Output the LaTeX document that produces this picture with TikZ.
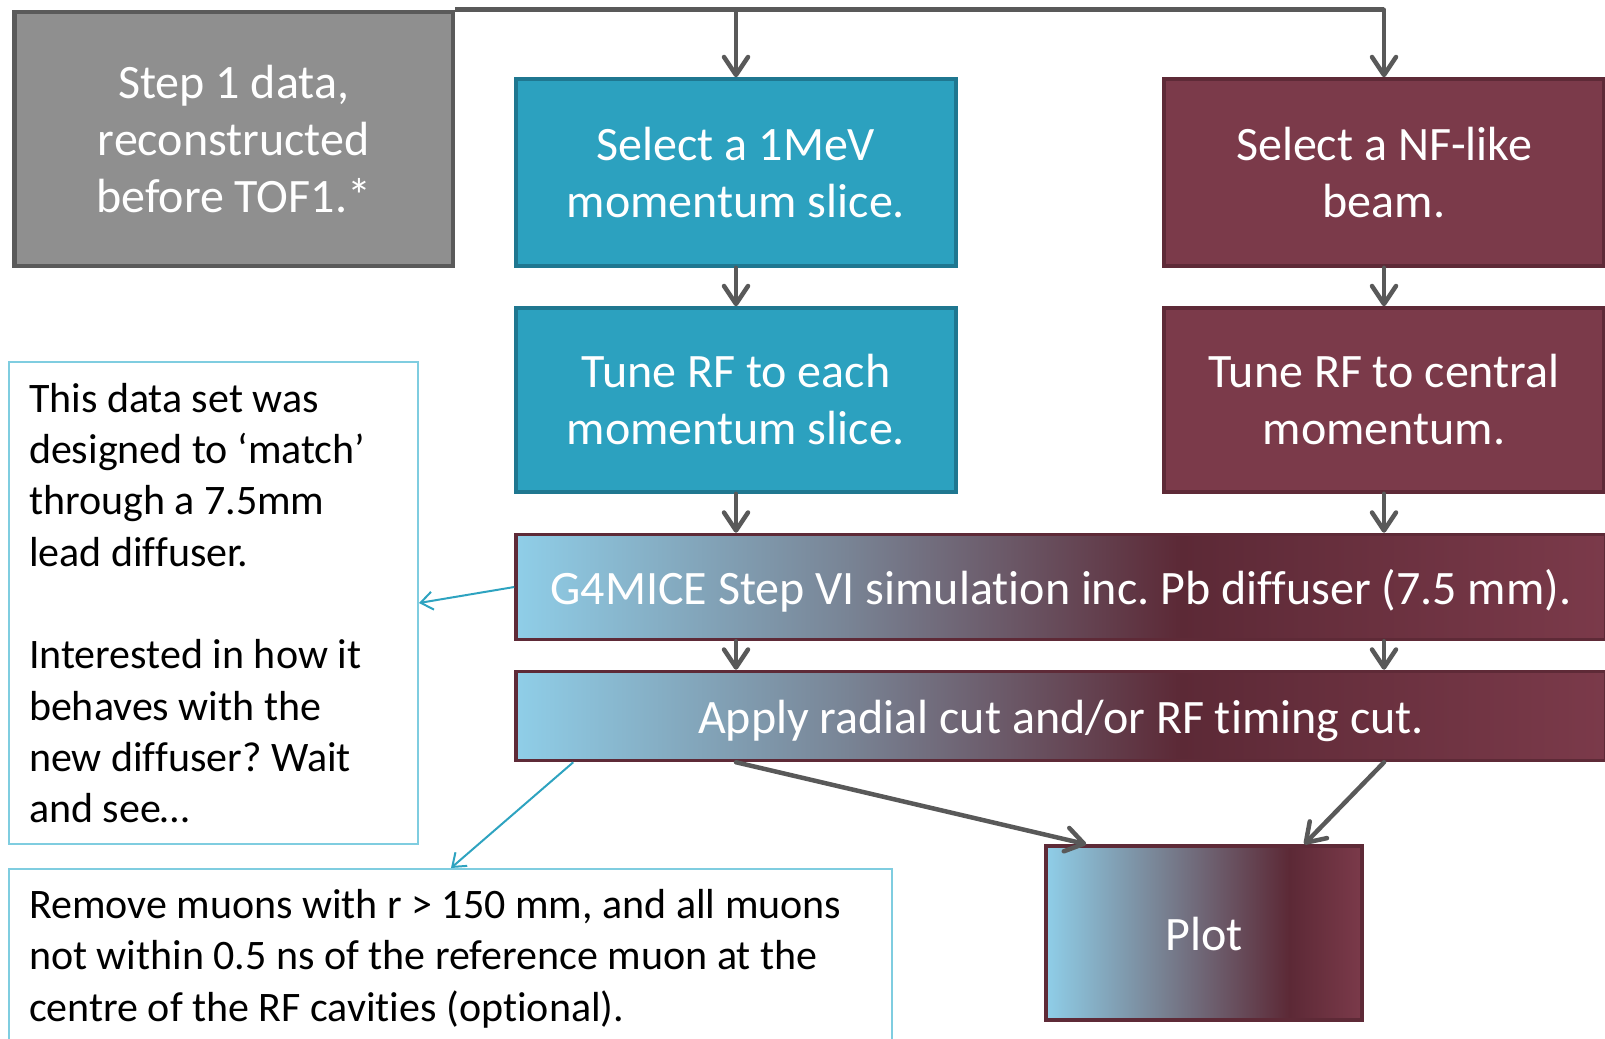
\documentclass[tikz,border=0pt]{standalone}
\usepackage{fontspec}
\setmainfont{Carlito}[Ligatures=NoCommon]
\usetikzlibrary{arrows.meta,calc}
\frenchspacing
\definecolor{arrowgray}{HTML}{595959}
\definecolor{grayfill}{HTML}{8F8F8F}
\definecolor{grayline}{HTML}{5A5A5A}
\definecolor{tealfill}{HTML}{2CA1BF}
\definecolor{tealline}{HTML}{1F7790}
\definecolor{maroonfill}{HTML}{7B3A4A}
\definecolor{maroonline}{HTML}{5E2A37}
\definecolor{noteline}{HTML}{7FCDE0}
\definecolor{thinteal}{HTML}{2EA3C0}
\definecolor{gblue}{HTML}{8FCEE8}
\definecolor{gmid}{HTML}{798596}
\definecolor{gdark}{HTML}{5C2936}
\definecolor{glight}{HTML}{7B3A4A}
\pgfdeclarehorizontalshading{gfour}{100bp}{color(0bp)=(gblue); color(25bp)=(gblue); color(40bp)=(gmid); color(55.5bp)=(gdark); color(75bp)=(glight); color(100bp)=(glight)}
\pgfdeclarehorizontalshading{plotsh}{100bp}{color(0bp)=(gblue); color(25bp)=(gblue); color(42.5bp)=(gmid); color(63.5bp)=(gdark); color(75bp)=(glight); color(100bp)=(glight)}
\tikzset{
  box/.style={rectangle, inner sep=0pt, text=white, align=center,
    font=\fontsize{48}{57}\selectfont},
  oneline/.style={text height=35pt, text depth=0pt},
  graybox/.style={box, fill=grayfill, draw=grayline, line width=4.5pt},
  tealbox/.style={box, fill=tealfill, draw=tealline, line width=3.5pt},
  maroonbox/.style={box, fill=maroonfill, draw=maroonline, line width=3.5pt},
  gradbox/.style={box, oneline, draw=maroonline, line width=3.5pt, shade, shading=gfour},
  plotbox/.style={box, oneline, draw=maroonline, line width=3.5pt, shade, shading=plotsh},
  notebox/.style={rectangle, inner sep=0pt, draw=noteline, line width=2pt,
    text=black, align=left, font=\fontsize{42}{51.3}\selectfont,
    execute at begin node={\spaceskip=0pt\relax\xspaceskip=0pt\relax}},
  flow/.style={draw=arrowgray, line width=4.5pt, line cap=round, line join=round,
    -{Straight Barb[length=18pt,width=24pt,line cap=round,line join=round]}},
  thin/.style={draw=thinteal, line width=2pt,
    -{Straight Barb[length=12pt,width=18pt]}}
}
\begin{document}
\begin{tikzpicture}[x=1pt,y=-1pt]
\useasboundingbox (0,0) rectangle (1605,1038);
\clip (0,0) rectangle (1605,1038);
% boxes
\node[graybox, minimum width=438.5pt, minimum height=254pt] (step1) at (233.75,139)
  {Step 1 data,\\reconstructed\\before TOF1.*};
\node[tealbox, minimum width=440pt, minimum height=187pt] (sel1) at (736,172.5)
  {Select a 1MeV\\momentum slice.};
\node[maroonbox, minimum width=440pt, minimum height=187pt] (selnf) at (1384,172.5)
  {Select a NF-like\\beam.};
\node[tealbox, minimum width=440pt, minimum height=184pt] (tune1) at (736,400)
  {Tune RF to each\\momentum slice.};
\node[maroonbox, minimum width=440pt, minimum height=184pt] (tunenf) at (1384,400)
  {Tune RF to central\\momentum.};
\node[gradbox, minimum width=1090pt, minimum height=105pt] (g4) at (1061,587)
  {G4MICE Step VI simulation inc. Pb diffuser (7.5 mm).};
\node[gradbox, minimum width=1090pt, minimum height=89pt] (apply) at (1061,716)
  {Apply radial cut and/or RF timing cut.};
\node[plotbox, minimum width=316pt, minimum height=174pt] (plot) at (1204,933)
  {Plot};
\node[notebox, minimum width=409pt, minimum height=482pt, text width=369pt] (note1) at (213.5,603)
  {This data set was\\designed to ‘match’\\through a 7.5mm\\lead diffuser.\\[51.3pt]Interested in how it\\behaves with the\\new diffuser? Wait\\and see…};
\node[notebox, minimum width=883pt, minimum height=179pt, text width=843pt] (note2) at (450.5,958.5)
  {Remove muons with r > 150 mm, and all muons\\not within 0.5 ns of the reference muon at the\\centre of the RF cavities (optional).};
% connectors
\coordinate (topA) at (sel1.north |- step1.north);
\coordinate (topB) at (selnf.north |- step1.north);
\draw[draw=arrowgray, line width=4.5pt, line join=round] (step1.north east) -- (topB);
\draw[flow] (topB) -- (selnf.north);
\draw[flow] (topA) -- (sel1.north);
\draw[flow] (sel1.south) -- (tune1.north);
\draw[flow] (selnf.south) -- (tunenf.north);
\draw[flow] (tune1.south) -- (tune1.south |- g4.north);
\draw[flow] (tunenf.south) -- (tunenf.south |- g4.north);
\draw[flow] (tune1.south |- g4.south) -- (tune1.south |- apply.north);
\draw[flow] (tunenf.south |- g4.south) -- (tunenf.south |- apply.north);
\coordinate (applyL) at ($(apply.south west)+(59,0)$);
\coordinate (note2T) at ($(note2.north west)+(443,0)$);
\coordinate (plotL) at ($(plot.north west)+(42,0)$);
\coordinate (plotR) at ($(plot.north west)+(260,0)$);
\draw[flow] (tune1.south |- apply.south) -- (plotL);
\draw[flow] (tunenf.south |- apply.south) -- (plotR);
\draw[thin] (g4.west) -- (note1.east);
\draw[thin] (applyL) -- (note2T);
\end{tikzpicture}
\end{document}
